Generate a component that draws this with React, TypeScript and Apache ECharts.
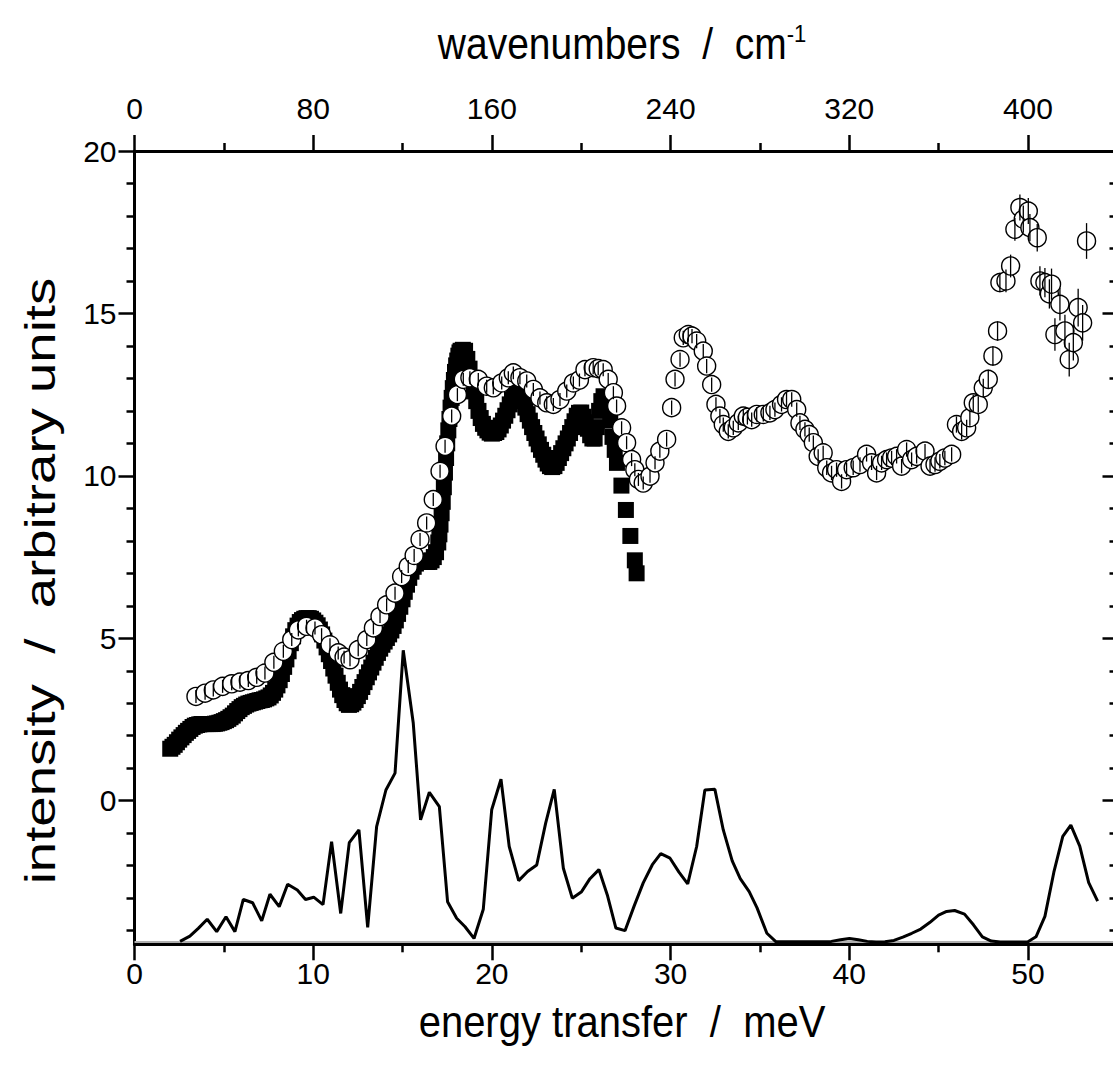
import React, { useEffect, useRef } from "react";
import * as echarts from "echarts";

// ---------- data ----------
const squaresX = [2.0,2.125,2.25,2.375,2.5,2.625,2.75,2.875,3.0,3.125,3.25,3.375,3.5,3.625,3.75,3.875,4.0,4.125,4.25,4.375,4.5,4.625,4.75,4.875,5.0,5.125,5.25,5.375,5.5,5.625,5.75,5.875,6.0,6.125,6.25,6.375,6.5,6.625,6.75,6.875,7.0,7.125,7.25,7.375,7.5,7.625,7.75,7.875,8.0,8.125,8.25,8.375,8.5,8.625,8.75,8.875,9.0,9.125,9.25,9.375,9.5,9.625,9.75,9.875,10.0,10.125,10.25,10.375,10.5,10.625,10.75,10.875,11.0,11.125,11.25,11.375,11.5,11.625,11.75,11.875,12.0,12.125,12.25,12.375,12.5,12.625,12.75,12.875,13.0,13.125,13.25,13.375,13.5,13.625,13.75,13.875,14.0,14.125,14.25,14.375,14.5,14.625,14.75,14.875,15.0,15.125,15.25,15.375,15.5,15.625,15.75,15.875,16.0,16.125,16.25,16.375,16.5,16.625,16.75,16.875,17.0,17.0625,17.125,17.1875,17.25,17.3125,17.375,17.4375,17.5,17.5625,17.625,17.6875,17.75,17.8125,17.875,17.9375,18.0,18.0625,18.125,18.1875,18.25,18.375,18.5,18.625,18.75,18.875,19.0,19.125,19.25,19.375,19.5,19.625,19.75,19.875,20.0,20.125,20.25,20.375,20.5,20.625,20.75,20.875,21.0,21.125,21.25,21.375,21.5,21.625,21.75,21.875,22.0,22.125,22.25,22.375,22.5,22.625,22.75,22.875,23.0,23.125,23.25,23.375,23.5,23.625,23.75,23.875,24.0,24.125,24.25,24.375,24.5,24.625,24.75,24.875,25.0,25.125,25.25,25.375,25.5,25.625,25.75,25.875,26.0,26.125,26.25,26.375,26.5,26.625,26.75,26.875,27.0,27.25,27.5,27.75,28.0,28.1];
const squaresY = [1.6,1.66,1.72,1.8,1.88,1.95,2.02,2.09,2.15,2.21,2.27,2.31,2.33,2.35,2.36,2.36,2.36,2.36,2.36,2.36,2.37,2.38,2.4,2.42,2.45,2.48,2.52,2.57,2.62,2.69,2.76,2.82,2.88,2.92,2.96,2.99,3.01,3.03,3.05,3.07,3.09,3.1,3.12,3.15,3.18,3.24,3.32,3.42,3.55,3.71,3.9,4.12,4.35,4.6,4.85,5.06,5.25,5.39,5.5,5.56,5.6,5.62,5.62,5.6,5.55,5.48,5.4,5.27,5.12,4.93,4.72,4.51,4.3,4.07,3.85,3.63,3.42,3.25,3.1,3.0,2.95,2.97,3.02,3.1,3.22,3.35,3.5,3.65,3.8,3.95,4.1,4.25,4.4,4.55,4.68,4.8,4.9,5.01,5.12,5.24,5.38,5.55,5.75,5.97,6.2,6.43,6.65,6.86,7.05,7.2,7.3,7.36,7.38,7.37,7.35,7.35,7.35,7.4,7.5,7.65,7.95,8.2,8.5,8.85,9.2,9.65,10.1,10.55,11.0,11.4,11.75,12.1,12.4,12.7,12.95,13.2,13.4,13.55,13.7,13.8,13.85,13.88,13.85,13.6,13.3,12.95,12.6,12.3,12.0,11.78,11.6,11.48,11.4,11.33,11.3,11.32,11.35,11.43,11.55,11.7,11.85,12.02,12.2,12.36,12.5,12.58,12.6,12.48,12.3,12.1,11.9,11.7,11.5,11.32,11.15,10.97,10.8,10.65,10.5,10.38,10.3,10.27,10.3,10.4,10.55,10.7,10.85,11.0,11.15,11.32,11.5,11.68,11.85,11.94,11.95,11.82,11.65,11.45,11.25,11.15,11.15,11.5,12.0,12.3,12.45,12.35,12.1,11.7,11.2,10.8,10.4,9.7,8.95,8.15,7.4,7.0];

const circlesX = [3.44,3.95,4.41,4.93,5.44,5.9,6.37,6.84,7.3,7.8,8.33,8.8,9.17,9.63,10.1,10.47,10.94,11.4,11.73,12.06,12.52,13.0,13.37,13.74,14.11,14.58,14.95,15.32,15.65,15.98,16.35,16.72,17.1,17.38,17.75,18.07,18.4,18.77,19.24,19.71,20.08,20.55,20.92,21.2,21.57,21.95,22.32,22.69,23.07,23.44,23.81,24.19,24.56,24.9,25.21,25.67,25.95,26.23,26.51,26.8,26.98,27.26,27.54,27.82,28.0,28.2,28.47,28.85,29.13,29.4,29.78,30.06,30.25,30.53,30.71,30.99,31.2,31.46,31.83,32.02,32.3,32.54,32.76,32.95,33.23,33.51,33.79,34.07,34.3,34.54,34.82,35.19,35.56,35.84,36.21,36.49,36.78,37.06,37.24,37.52,37.76,37.99,38.26,38.54,38.74,39.01,39.29,39.57,39.85,40.22,40.6,40.97,41.25,41.53,41.81,42.09,42.37,42.65,42.93,43.21,43.49,43.77,44.24,44.52,44.8,45.07,45.35,45.73,46.0,46.29,46.57,46.75,46.94,47.22,47.5,47.78,48.04,48.3,48.43,48.77,49.03,49.27,49.55,49.74,50.02,50.11,50.52,50.67,50.95,51.2,51.32,51.51,51.79,52.07,52.31,52.54,52.81,53.06,53.28];
const circlesY = [3.21,3.31,3.41,3.52,3.6,3.65,3.7,3.8,3.93,4.26,4.6,4.96,5.26,5.37,5.32,5.11,4.8,4.55,4.42,4.34,4.65,4.96,5.32,5.67,6.03,6.39,6.9,7.21,7.55,8.04,8.55,9.27,10.14,10.91,11.84,12.5,12.97,13.02,12.97,12.76,12.71,12.86,13.02,13.17,13.02,12.92,12.66,12.4,12.25,12.2,12.35,12.61,12.86,12.95,13.27,13.33,13.3,13.27,12.97,12.56,12.15,11.48,11.02,10.5,10.19,9.89,9.78,9.99,10.4,10.76,11.12,12.1,12.97,13.58,14.25,14.35,14.3,14.15,13.84,13.38,12.81,12.2,11.84,11.58,11.37,11.48,11.63,11.84,11.8,11.73,11.89,11.89,11.94,12.04,12.2,12.35,12.35,12.04,11.63,11.43,11.27,11.02,10.6,10.71,10.25,10.09,10.19,9.83,10.19,10.25,10.35,10.66,10.4,10.09,10.4,10.5,10.55,10.6,10.3,10.81,10.5,10.6,10.76,10.3,10.35,10.45,10.55,10.66,11.58,11.37,11.48,11.79,12.25,12.2,12.71,12.97,13.69,14.46,15.95,16.0,16.46,17.59,18.26,17.9,18.15,17.64,17.33,16.0,15.95,15.6,15.9,14.35,15.28,14.46,13.58,14.1,15.18,14.71,17.23];
const circlesErr = [0.2,0.2,0.2,0.2,0.2,0.2,0.2,0.2,0.2,0.2,0.2,0.2,0.2,0.2,0.2,0.2,0.2,0.2,0.2,0.2,0.2,0.2,0.2,0.2,0.2,0.2,0.2,0.2,0.2,0.2,0.2,0.2,0.2,0.2,0.2,0.2,0.2,0.2,0.2,0.2,0.2,0.2,0.2,0.2,0.2,0.2,0.2,0.2,0.2,0.2,0.2,0.2,0.2,0.2,0.2,0.2,0.2,0.2,0.2,0.2,0.2,0.2,0.2,0.2,0.2,0.2,0.2,0.2,0.2,0.2,0.22,0.22,0.22,0.22,0.22,0.22,0.22,0.22,0.22,0.22,0.22,0.22,0.22,0.22,0.22,0.22,0.22,0.22,0.22,0.22,0.22,0.22,0.22,0.22,0.22,0.22,0.22,0.22,0.22,0.22,0.22,0.22,0.22,0.22,0.22,0.22,0.22,0.22,0.22,0.22,0.22,0.22,0.22,0.22,0.22,0.22,0.22,0.22,0.22,0.22,0.22,0.22,0.22,0.22,0.22,0.22,0.22,0.22,0.25,0.25,0.25,0.25,0.25,0.25,0.28,0.3,0.3,0.3,0.3,0.35,0.35,0.35,0.4,0.42,0.4,0.42,0.42,0.45,0.45,0.45,0.48,0.5,0.5,0.5,0.52,0.55,0.58,0.55,0.55,0.58,0.64];

const lineX = [2.55,3.1,3.57,4.07,4.6,5.12,5.62,6.09,6.61,7.12,7.58,8.1,8.57,9.11,9.57,10.03,10.55,11.03,11.54,12.02,12.56,13.05,13.55,14.07,14.58,15.04,15.6,16.01,16.5,17.06,17.52,18.03,18.5,19.0,19.52,19.99,20.51,20.97,21.5,22.0,22.51,23.01,23.49,24.0,24.5,25.02,25.49,25.99,26.46,26.94,27.45,27.97,28.47,28.98,29.45,29.97,30.47,30.96,31.46,31.92,32.48,32.95,33.45,33.9,34.4,34.84,35.39,35.89,36.5,37.0,37.5,38.0,38.5,39.0,39.51,40.01,40.51,41.01,41.5,42.0,42.5,43.0,43.5,44.0,44.5,45.0,45.45,45.9,46.45,46.95,47.45,47.95,48.45,49.0,49.5,50.0,50.45,50.95,51.45,51.95,52.4,52.9,53.4,53.9];
const lineY = [-4.33,-4.17,-3.93,-3.65,-4.03,-3.57,-4.03,-3.04,-3.14,-3.7,-2.88,-3.26,-2.57,-2.75,-3.04,-2.97,-3.2,-1.26,-3.47,-1.29,-0.9,-3.9,-0.8,0.33,0.85,4.63,2.39,-0.59,0.26,-0.18,-3.11,-3.62,-3.88,-4.24,-3.34,-0.28,0.66,-1.41,-2.46,-2.18,-1.98,-0.69,0.35,-2.08,-3.0,-2.8,-2.4,-2.12,-2.9,-3.92,-4.0,-3.23,-2.53,-1.97,-1.63,-1.77,-2.2,-2.56,-1.41,0.33,0.35,-0.9,-1.85,-2.4,-2.8,-3.3,-4.08,-4.34,-4.34,-4.34,-4.34,-4.34,-4.34,-4.33,-4.28,-4.24,-4.28,-4.33,-4.35,-4.34,-4.3,-4.2,-4.08,-3.95,-3.75,-3.52,-3.41,-3.38,-3.49,-3.82,-4.19,-4.32,-4.35,-4.35,-4.35,-4.34,-4.19,-3.56,-2.2,-1.1,-0.75,-1.4,-2.52,-3.09];

const baselineValue = -4.34;

const bottomMajor = [0, 10, 20, 30, 40, 50];
const bottomMinor = [5, 15, 25, 35, 45];
const topMajor = [0, 80, 160, 240, 320, 400];
const topMinor = [40, 120, 200, 280, 360];
const yMajor = [0, 5, 10, 15, 20];
const yMinor = [-4, -3, -2, -1, 1, 2, 3, 4, 6, 7, 8, 9, 11, 12, 13, 14, 16, 17, 18, 19];

const X_MIN = 0;
const X_MAX = 54.9;
const CM_PER_MEV = 8;
const Y_MIN = -4.42;
const Y_MAX = 20;

const FONT = "'Liberation Sans', Arial, sans-serif";

export default function App() {
  const ref = useRef<HTMLDivElement>(null);
  useEffect(() => {
    if (!ref.current) return;
    const chart = echarts.init(ref.current, null, { renderer: "svg" });
    const gridRect = { left: 134.5, top: 151, right: 4.5, bottom: 127.7 };
    const lineCol = { color: "#000", width: 2.5 };
    const ax = (extra: any) => ({
      type: "value",
      splitLine: { show: false },
      axisLine: { show: true, onZero: false, lineStyle: { color: "#000", width: 3 } },
      ...extra,
    });
    const option: any = {
      animation: false,
      backgroundColor: "#fff",
      grid: [{ ...gridRect }, { ...gridRect }],
      xAxis: [
        ax({
          gridIndex: 0, position: "bottom", min: X_MIN, max: X_MAX,
          axisTick: { show: true, customValues: bottomMajor, length: 16, lineStyle: lineCol },
          axisLabel: { customValues: bottomMajor, fontSize: 30, color: "#000", fontFamily: FONT, margin: 14 },
        }),
        ax({
          gridIndex: 0, position: "top", min: X_MIN * CM_PER_MEV, max: X_MAX * CM_PER_MEV,
          axisTick: { show: true, customValues: topMajor, length: 16, lineStyle: lineCol },
          axisLabel: { customValues: topMajor, fontSize: 30, color: "#000", fontFamily: FONT, margin: 28 },
        }),
        ax({
          gridIndex: 1, position: "bottom", min: X_MIN, max: X_MAX,
          axisLine: { show: false, onZero: false },
          axisTick: { show: true, customValues: bottomMinor, length: 8, lineStyle: lineCol },
          axisLabel: { show: false },
        }),
        ax({
          gridIndex: 1, position: "top", min: X_MIN * CM_PER_MEV, max: X_MAX * CM_PER_MEV,
          axisLine: { show: false, onZero: false },
          axisTick: { show: true, customValues: topMinor, length: 8, lineStyle: lineCol },
          axisLabel: { show: false },
        }),
      ],
      yAxis: [
        ax({
          gridIndex: 0, position: "left", min: Y_MIN, max: Y_MAX,
          axisTick: { show: true, customValues: yMajor, length: 16, lineStyle: lineCol },
          axisLabel: { customValues: yMajor, fontSize: 30, color: "#000", fontFamily: FONT, margin: 18 },
        }),
        ax({
          gridIndex: 0, position: "right", min: Y_MIN, max: Y_MAX,
          axisTick: { show: true, inside: true, customValues: yMajor, length: 13, lineStyle: lineCol },
          axisLabel: { show: false },
        }),
        ax({
          gridIndex: 1, position: "left", min: Y_MIN, max: Y_MAX,
          axisLine: { show: false, onZero: false },
          axisTick: { show: true, customValues: yMinor, length: 8, lineStyle: lineCol },
          axisLabel: { show: false },
        }),
        ax({
          gridIndex: 1, position: "right", min: Y_MIN, max: Y_MAX,
          axisLine: { show: false, onZero: false },
          axisTick: { show: true, inside: true, customValues: yMinor, length: 6, lineStyle: lineCol },
          axisLabel: { show: false },
        }),
      ],
      series: [
        {
          type: "line",
          xAxisIndex: 0, yAxisIndex: 0,
          data: lineX.map((x, i) => [x, lineY[i]]),
          showSymbol: false,
          symbol: "none",
          lineStyle: { color: "#000", width: 3 },
          z: 2,
          markLine: {
            silent: true,
            symbol: "none",
            label: { show: false },
            lineStyle: { color: "#b0b0b0", width: 2, type: "solid" },
            data: [{ yAxis: baselineValue }],
            z: 1,
          },
        },
        {
          type: "scatter",
          xAxisIndex: 0, yAxisIndex: 0,
          data: squaresX.map((x, i) => [x, squaresY[i]]),
          symbol: "rect",
          symbolSize: 16,
          itemStyle: { color: "#000", opacity: 1 },
          z: 3,
        },
        {
          type: "scatter",
          xAxisIndex: 0, yAxisIndex: 0,
          data: circlesX.map((x, i) => [x, circlesY[i]]),
          symbol: "circle",
          symbolSize: 18,
          itemStyle: { color: "#fff", borderColor: "#000", borderWidth: 1.4, opacity: 1 },
          z: 4,
        },
        {
          type: "custom",
          xAxisIndex: 0, yAxisIndex: 0,
          data: circlesX.map((x, i) => [x, circlesY[i] - circlesErr[i], circlesY[i] + circlesErr[i]]),
          encode: { x: 0, y: [1, 2] },
          silent: true,
          z: 5,
          renderItem: (_p: any, api: any) => {
            const lo = api.coord([api.value(0), api.value(1)]);
            const hi = api.coord([api.value(0), api.value(2)]);
            return {
              type: "line",
              shape: { x1: lo[0], y1: lo[1], x2: hi[0], y2: hi[1] },
              style: { stroke: "#000", lineWidth: 1.3 },
            };
          },
        },
      ],
      graphic: [
        {
          type: "text",
          x: 622, y: 44,
          scaleY: 1.12,
          style: {
            text: "{a|wavenumbers  /  cm}{s|-1}",
            textAlign: "center",
            textVerticalAlign: "middle",
            rich: {
              a: { fontSize: 39, fontFamily: FONT, fill: "#000", color: "#000" },
              s: { fontSize: 22, fontFamily: FONT, fill: "#000", color: "#000", verticalAlign: "top", padding: [0, 0, 18, 0] },
            },
          },
        },
        {
          type: "text",
          x: 622, y: 1022,
          scaleY: 1.12,
          style: {
            text: "energy transfer  /  meV",
            font: `40px ${FONT}`,
            fill: "#000",
            textAlign: "center",
            textVerticalAlign: "middle",
          },
        },
        {
          type: "text",
          x: 40, y: 581,
          rotation: Math.PI / 2,
          scaleX: 1.3,
          style: {
            text: "intensity  /  arbitrary units",
            font: `42px ${FONT}`,
            fill: "#000",
            textAlign: "center",
            textVerticalAlign: "middle",
          },
        },
      ],
    };
    chart.setOption(option);
    return () => chart.dispose();
  }, []);
  return (
    <div style={{ position: "absolute", left: 0, top: 0, width: 1113, height: 1072, overflow: "hidden", background: "#fff" }}>
      <div ref={ref} style={{ width: 1120, height: 1072 }} />
    </div>
  );
}
